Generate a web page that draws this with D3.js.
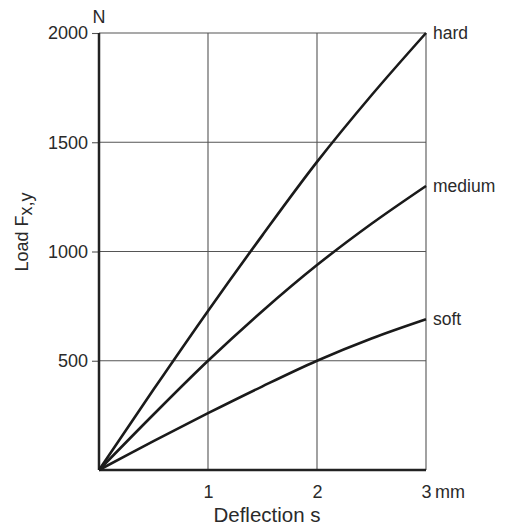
<!DOCTYPE html>
<html><head><meta charset="utf-8">
<script src="https://cdn.jsdelivr.net/npm/d3@7/dist/d3.min.js"></script>
<style>
body{margin:0;background:#fff;}
text{font-family:"Liberation Sans",Arial,sans-serif;fill:#2a2a2a;}
</style></head>
<body><svg id="c" width="509" height="527"></svg>
<script>
const deflection = [0, 0.5, 1, 1.5, 2, 2.5, 3];
const hard   = [0, 368, 728, 1075, 1410, 1715, 2000];
const medium = [0, 254, 500, 728, 938, 1127, 1300];
const soft   = [0, 132, 260, 383, 500, 602, 690];
const seriesNames = ["hard", "medium", "soft"];
const xTicks = [1, 2, 3];
const yTicks = [500, 1000, 1500, 2000];

const svg = d3.select("#c");
const m = {l: 99, r: 426, t: 33, b: 470};
const x = d3.scaleLinear().domain([0, 3]).range([m.l, m.r]);
const y = d3.scaleLinear().domain([0, 2000]).range([m.b, m.t]);
const FF = "Liberation Sans, Arial, sans-serif";

// grid
const g = svg.append("g");
g.selectAll(".vx").data(xTicks).join("line")
  .attr("x1", d => x(d)).attr("x2", d => x(d)).attr("y1", y(0)).attr("y2", y(2000))
  .attr("stroke", "#555").attr("stroke-width", 1.1);
g.selectAll(".hy").data(yTicks).join("line")
  .attr("x1", x(0)).attr("x2", x(3)).attr("y1", d => y(d)).attr("y2", d => y(d))
  .attr("stroke", "#555").attr("stroke-width", 1.1);

// y axis
const ya = svg.append("g").attr("transform", `translate(${m.l},0)`)
  .call(d3.axisLeft(y).tickValues(yTicks).tickSize(7).tickPadding(4).tickFormat(d3.format("d")));
ya.select(".domain").remove();
ya.selectAll(".tick line").attr("stroke", "#555").attr("stroke-width", 1.1);
ya.selectAll(".tick text").attr("font-size", 18).attr("fill", "#2a2a2a").attr("font-family", FF);

// x axis
const xa = svg.append("g").attr("transform", `translate(0,${m.b})`)
  .call(d3.axisBottom(x).tickValues(xTicks).tickSize(0).tickPadding(15).tickFormat(d3.format("d")));
xa.select(".domain").remove();
xa.selectAll(".tick text").attr("font-size", 18).attr("fill", "#2a2a2a").attr("font-family", FF);

// main axes lines
svg.append("line").attr("x1", x(0)).attr("x2", x(0)).attr("y1", y(0)).attr("y2", y(2000))
  .attr("stroke", "#222").attr("stroke-width", 2.5);
svg.append("line").attr("x1", x(0)).attr("x2", x(3)).attr("y1", y(0)).attr("y2", y(0))
  .attr("stroke", "#222").attr("stroke-width", 2.5);

// curves
const data = [hard, medium, soft];
const line = d3.line().x((d, i) => x(deflection[i])).y(d => y(d)).curve(d3.curveCatmullRom);
svg.selectAll(".curve").data(data).join("path")
  .attr("d", d => line(d)).attr("fill", "none").attr("stroke", "#1a1a1a").attr("stroke-width", 2.6);

// series labels
svg.selectAll(".lbl").data(data).join("text")
  .attr("x", x(3) + 7).attr("y", d => y(d[d.length - 1]))
  .attr("dy", "0.32em").attr("font-size", 17.5).text((d, i) => seriesNames[i]);

// units
svg.append("text").attr("x", x(3) + 9).attr("y", y(0) + 15).attr("dy", "0.71em")
  .attr("font-size", 18).text("mm");
svg.append("text").attr("x", x(0)).attr("y", 23).attr("text-anchor", "middle")
  .attr("font-size", 18).text("N");

// axis titles
svg.append("text").attr("x", 267).attr("y", 522).attr("text-anchor", "middle")
  .attr("font-size", 20.5).text("Deflection s");
const yl = svg.append("text").attr("transform", "translate(28,232) rotate(-90)")
  .attr("text-anchor", "middle").attr("font-size", 18);
yl.append("tspan").text("Load F");
yl.append("tspan").attr("dy", 4).attr("font-size", 18).text("x,y");
</script></body></html>
